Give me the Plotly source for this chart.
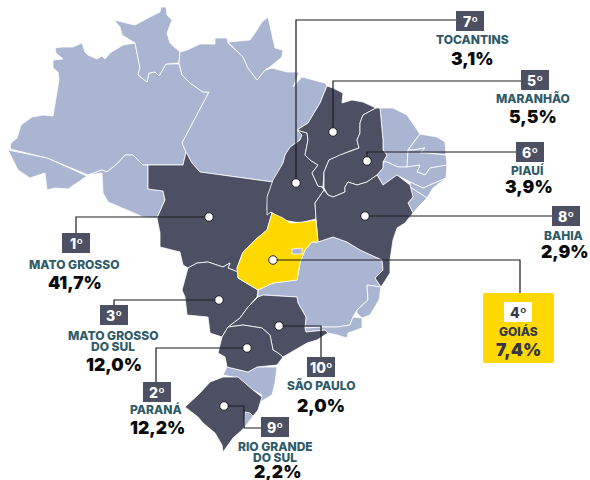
import plotly.graph_objects as go

DARK = "#4c5062"
LIGHT = "#a9b5d1"
YELLOW = "#ffd800"
TEAL = "#2f5a68"
INK = "#0b0b0b"
FONT = "Inter"

# Ranking
ranks = ["1º", "2º", "3º", "4º", "5º", "6º", "7º", "8º", "9º", "10º"]
names = [["MATO GROSSO"], ["PARANÁ"], ["MATO GROSSO", "DO SUL"], ["GOIÁS"], ["MARANHÃO"],
         ["PIAUÍ"], ["TOCANTINS"], ["BAHIA"], ["RIO GRANDE", "DO SUL"], ["SÃO PAULO"]]
shares = [41.7, 12.2, 12.0, 7.4, 5.5, 3.9, 3.1, 2.9, 2.2, 2.0]

# State outlines (map coordinates)
AM = [(55,48),(62,47),(73,47),(82,43),(85,52),(88,55),(97,59),(102,56),(105,59),(110,53),(123,45),(135,43),(137,53),(140,68),(138,75),(147,82),(149,73),(155,72),(159,76),(166,64),(179,64),(182,75),(190,83),(203,92),(209,92),(182,143),(186,152),(183,165),(148,165),(143,165),(133,155),(125,155),(118,163),(107,172),(102,170),(88,175),(47,158),(10,149),(11,143),(17,138),(21,125),(32,117),(43,115),(53,116),(59,80),(58,72),(53,68),(53,60),(63,59),(56,53)]
AC = [(8,150),(47,158),(87,176),(68,189),(55,188),(47,190),(45,173),(30,178),(18,170),(13,160)]
RO = [(88,175),(102,173),(103,193),(108,202),(127,210),(143,217),(157,218),(165,200),(163,191),(148,189),(148,165),(143,165),(133,155),(125,155),(118,163),(107,172),(102,170)]
RR = [(114,20),(128,23),(135,25),(150,17),(160,12),(161,7),(166,7),(167,15),(172,20),(167,33),(170,43),(180,52),(179,63),(166,64),(159,76),(155,72),(149,73),(147,82),(138,75),(140,68),(137,53),(135,43),(122,35),(120,27)]
PA = [(180,52),(187,50),(200,44),(215,44),(215,38),(227,38),(228,43),(243,57),(248,68),(257,80),(265,70),(272,68),(287,72),(297,72),(299,73),(293,87),(302,77),(325,83),(327,86),(320,103),(308,123),(297,130),(302,135),(300,140),(290,147),(285,155),(283,163),(273,182),(200,172),(192,163),(186,152),(182,143),(209,92),(203,92),(190,83),(182,75),(179,63)]
AP = [(228,42),(250,40),(257,30),(262,22),(268,17),(275,48),(283,50),(282,57),(270,67),(265,70),(257,80),(248,68),(243,57)]
MT = [(148,165),(183,165),(186,152),(192,163),(200,172),(273,182),(268,195),(267,210),(272,213),(267,230),(255,240),(243,252),(237,268),(238,272),(228,268),(230,263),(223,267),(208,262),(197,263),(188,268),(183,265),(180,252),(160,247),(160,233),(157,218),(165,200),(163,191),(148,189)]
MS = [(188,268),(197,263),(208,262),(223,267),(230,263),(228,268),(238,272),(238,278),(258,290),(257,297),(248,307),(240,318),(228,327),(222,337),(210,333),(208,317),(187,315),(185,297),(182,290),(187,273)]
GO = [(272,213),(283,218),(290,223),(303,222),(316,220),(318,242),(312,242),(305,250),(300,263),(297,280),(273,283),(258,290),(238,278),(237,268),(243,252),(255,240),(267,230)]
DF = [(292,249),(302,248),(302,254),(292,254)]
MG = [(258,290),(273,283),(297,280),(300,263),(305,250),(312,242),(318,242),(333,237),(347,242),(360,250),(382,260),(383,270),(375,278),(381,287),(367,285),(368,300),(357,310),(353,317),(350,325),(337,327),(322,327),(305,328),(306,317),(298,303),(297,297),(263,295),(258,297)]
ES = [(381,287),(379,300),(370,315),(362,318),(357,313),(357,310),(368,300),(367,285)]
RJ = [(350,325),(353,317),(362,318),(362,328),(348,333),(347,338),(337,335),(328,333),(325,330),(306,332),(305,328),(322,327),(337,327)]
SP = [(258,297),(263,295),(297,297),(298,303),(306,317),(305,328),(306,332),(325,330),(328,333),(317,340),(307,343),(295,350),(283,357),(278,353),(273,350),(270,335),(262,328),(243,325),(228,327),(240,318),(248,307)]
PR = [(228,327),(243,325),(262,328),(270,335),(273,350),(278,353),(283,357),(277,365),(257,367),(248,372),(227,367),(225,357),(218,353),(222,337)]
SC = [(227,367),(248,372),(257,367),(277,367),(275,383),(272,395),(260,402),(262,395),(253,390),(238,378),(223,375)]
RS = [(223,377),(238,377),(253,390),(262,397),(258,410),(250,420),(242,430),(233,438),(223,452),(222,445),(215,433),(203,423),(198,417),(185,407),(200,393),(210,382)]
LAGOON = [(245,412),(250,413),(253,416),(247,424),(244,428)]
TO = [(297,130),(307,133),(308,140),(305,155),(310,160),(318,165),(312,173),(318,186),(322,187),(324,190),(315,203),(316,219),(300,223),(283,220),(271,212),(267,215),(267,197),(273,180),(283,163),(285,155),(290,147),(300,140),(302,135)]
MA = [(327,86),(333,88),(343,93),(342,103),(352,100),(363,102),(376,108),(363,115),(360,123),(360,133),(357,140),(359,148),(350,151),(340,155),(329,160),(324,172),(323,187),(318,186),(312,173),(318,165),(310,160),(305,155),(308,140),(307,133),(297,130),(308,123),(320,103)]
PI = [(376,108),(380,108),(383,140),(383,150),(387,155),(383,162),(383,168),(377,175),(367,182),(357,185),(348,182),(345,187),(345,192),(333,197),(328,195),(324,188),(324,172),(329,160),(340,155),(350,151),(359,148),(357,140),(360,133),(360,123),(363,115)]
BA = [(324,190),(328,195),(333,197),(345,192),(345,187),(348,182),(357,185),(367,182),(377,175),(383,185),(397,175),(410,185),(413,197),(408,203),(413,213),(405,223),(397,228),(393,240),(390,260),(390,273),(381,287),(375,278),(383,270),(382,260),(360,250),(347,242),(333,237),(318,242),(316,219),(315,203)]
CE = [(380,108),(393,108),(407,115),(420,134),(413,143),(408,150),(407,167),(398,167),(387,162),(383,162),(387,155),(383,150),(383,140)]
RN = [(420,134),(437,137),(445,142),(446,155),(427,153),(420,153),(425,148),(413,150),(408,150),(413,143)]
PB = [(408,150),(413,150),(425,148),(420,153),(427,153),(446,155),(447,165),(430,168),(425,175),(417,172),(420,165),(407,167)]
PE = [(383,162),(387,162),(398,167),(407,167),(420,165),(417,172),(425,175),(430,168),(447,165),(446,178),(423,188),(410,182),(397,175),(383,185),(377,175),(383,168)]
AL = [(410,182),(423,188),(446,178),(433,188),(427,198),(410,187)]
SE = [(410,187),(427,198),(420,205),(413,213),(408,203),(413,197)]
MARAJO_CUT = [(272,68),(278,62),(281,66),(288,70)]

light_states = [AM, AC, RO, RR, PA, AP, MG, ES, RJ, SC, CE, RN, PB, PE, AL, SE]
dark_states = [MT, MS, SP, PR, RS, TO, MA, PI, BA]

# Callout geometry: dot, elbow path, rank box, texts
dots = [(209,217),(247,348),(219,300),(273,260),(333,132),(367,161),(296,183),(365,216),(224,406),(279,326)]
elbows = [[(76,217),(76,233)], [(156,348),(156,382)], [(114,300),(114,305)], [(520,260),(520,293)],
          [(333,81),(521,81)], [(367,152),(516,152)], [(296,20),(456,20)], [(552,216)],
          [(244,406),(244,428),(261,428)], [(321,326),(321,357)]]
boxes = [(62,233),(143,382),(100,305),(504,302),(521,70),(516,142),(456,11),(552,206),(261,417),(307,357)]
name_xy = [(74,264),(156,409),(113,335),(518,331),(533,98),(527,170),(472,39),(563,235),(275,446),(321,385)]
pct_xy = [(75,282),(157,427),(114,364),(518,349),(533,116),(529,186),(472,58),(565,251),(277,471),(321,405)]
LINE_STEP = 11

fig = go.Figure()
def poly(pts, color):
    pts = list(pts) + [pts[0]]
    fig.add_trace(go.Scatter(x=[p[0] for p in pts], y=[p[1] for p in pts], mode="lines", fill="toself",
                             fillcolor=color, line=dict(color="#ffffff", width=0.8), hoverinfo="skip", showlegend=False))
for s in light_states:
    poly(s, LIGHT)
for s in dark_states:
    poly(s, DARK)
poly(GO, YELLOW)
poly(DF, LIGHT)
poly(LAGOON, LIGHT)
fig.add_trace(go.Scatter(x=[p[0] for p in MARAJO_CUT], y=[p[1] for p in MARAJO_CUT], mode="lines",
                         line=dict(color="#ffffff", width=1.5), hoverinfo="skip", showlegend=False))

shapes = []
ann = []
def text(x, y, t, size, color, weight=800):
    ann.append(dict(x=x, y=y, text=t, showarrow=False, xref="x", yref="y", xanchor="center", yanchor="middle",
                    align="center", font=dict(family=FONT, size=size, color=color, weight=weight)))

shapes.append(dict(type="path", xref="x", yref="y", line=dict(width=0), fillcolor=YELLOW,
                   path="M485,293 H552 Q554,293 554,295 V361 Q554,363 552,363 H485 Q483,363 483,361 V295 Q483,293 485,293 Z"))

for i in range(len(ranks)):
    path = [dots[i]] + elbows[i]
    fig.add_trace(go.Scatter(x=[p[0] for p in path], y=[p[1] for p in path], mode="lines",
                             line=dict(color="#1c1c22", width=1.2), hoverinfo="skip", showlegend=False))
    bx, by = boxes[i]
    gold = names[i][0] == "GOIÁS"
    shapes.append(dict(type="rect", xref="x", yref="y", x0=bx, x1=bx + 28, y0=by, y1=by + 20,
                       fillcolor="#ffffff" if gold else DARK, line=dict(width=0)))
    text(bx + 14, by + 10, ranks[i], 14, "#333645" if gold else "#ffffff")
    for k, line in enumerate(names[i]):
        text(name_xy[i][0], name_xy[i][1] + k * LINE_STEP, line, 12, "#333645" if gold else TEAL)
    text(pct_xy[i][0], pct_xy[i][1], f"{shares[i]:.1f}".replace(".", ",") + "%", 17.5, "#333645" if gold else INK, 900)

fig.add_trace(go.Scatter(x=[d[0] for d in dots], y=[d[1] for d in dots], mode="markers",
                         marker=dict(size=8.5, color="#ffffff", line=dict(color="#1c1c22", width=1)),
                         hoverinfo="skip", showlegend=False))

fig.update_layout(width=590, height=480, margin=dict(l=0, r=0, t=0, b=0), paper_bgcolor="#ffffff",
                  plot_bgcolor="#ffffff", shapes=shapes, annotations=ann, showlegend=False,
                  xaxis=dict(range=[0, 590], visible=False, fixedrange=True),
                  yaxis=dict(range=[480, 0], visible=False, fixedrange=True))
fig.write_html("out.html", config={"displayModeBar": False}, post_script="document.body.style.margin='0';")
